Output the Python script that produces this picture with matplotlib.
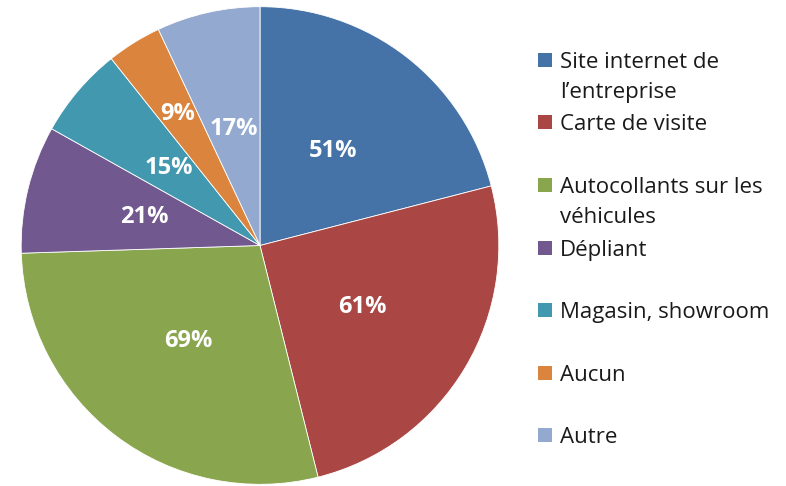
import numpy as np
import matplotlib.pyplot as plt
from matplotlib.patches import Rectangle

plt.rcParams['font.family'] = ['Open Sans', 'DejaVu Sans']

categories = ["Site internet de\nl\u2019entreprise", "Carte de visite",
              "Autocollants sur les\nv\u00e9hicules", "D\u00e9pliant",
              "Magasin, showroom", "Aucun", "Autre"]
values = [51, 61, 69, 21, 15, 9, 17]
colors = ['#4572A7', '#AA4643', '#89A54E', '#71588F', '#4198AF', '#DB843D', '#93A9CF']
# distance of each value label from the centre (fraction of radius)
label_dist = [0.5, 0.5, 0.5, 0.5, 0.5, 0.65, 0.5]

W, H = 786, 486
fig = plt.figure(figsize=(W / 100, H / 100), dpi=100)
ax = fig.add_axes([20 / W, 0.5 / H, 480 / W, 480 / H])

wedges, texts = ax.pie(values, colors=colors, startangle=90, counterclock=False,
                       radius=1, wedgeprops=dict(edgecolor='white', linewidth=0.6))
ax.set_xlim(-1.005, 1.005)
ax.set_ylim(-1.005, 1.005)
ax.set_aspect('equal')

# value labels (values shown as-is, not shares of total)
total = sum(values)
start = 90.0
for v, d in zip(values, label_dist):
    span = v / total * 360
    mid = np.deg2rad(start - span / 2)
    ax.text(d * np.cos(mid), d * np.sin(mid), f"{v}%", ha='center', va='center',
            color='white', fontsize=17, fontweight='bold')
    start -= span

# legend drawn by hand so wrapped labels keep their first line beside the marker
y0 = 60
step = 62.5
line_h = 30
for i, (lab, c) in enumerate(zip(categories, colors)):
    yc = y0 + i * step
    fig.patches.append(Rectangle((538 / W, 1 - (yc + 7) / H), 14 / W, 14 / H,
                                 transform=fig.transFigure, facecolor=c, edgecolor='none'))
    for k, line in enumerate(lab.split('\n')):
        fig.text(560 / W, 1 - (yc + k * line_h) / H, line, ha='left',
                 va='center_baseline', fontsize=16, color='#1a1a1a')

fig.savefig('out.png', dpi=100)
